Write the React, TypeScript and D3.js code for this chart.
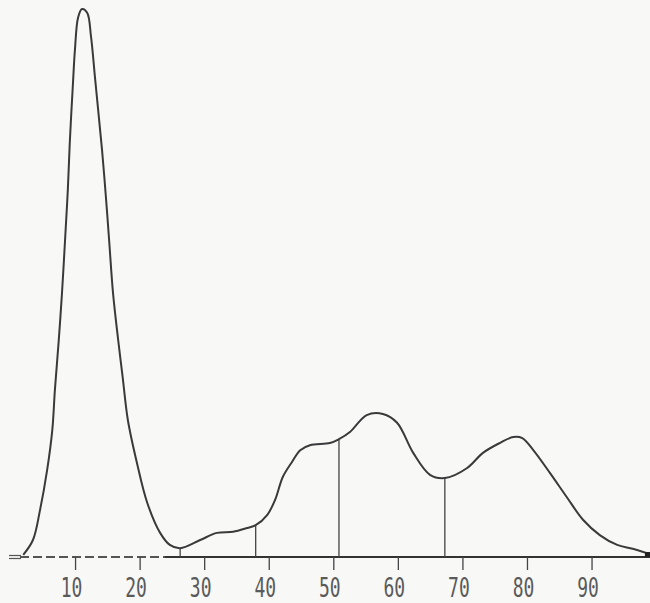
import { useRef, useEffect } from "react";
import * as d3 from "d3";

const W = 650;
const H = 603;
const BASE_Y = 557;

// migration distance (0-100) and density (% of the highest peak)
const position = [
  1.9, 3.4, 4.5, 5.6, 6.4, 6.8, 7.4, 7.9, 8.4, 8.8, 9.1, 9.6, 9.9, 10.4, 11.0,
  11.8, 12.4, 13.0, 13.5, 14.1, 14.7, 15.2, 15.8, 16.6, 17.3, 18.1, 19.5, 21.1, 23.1,
  24.6, 26.2, 29.3, 31.9, 34.4, 36.6, 37.9, 39.7, 40.9, 42.1, 43.5, 44.8, 46.3, 49.4,
  50.8, 52.5, 55.1, 57.6, 59.8, 62.3, 64.9, 67.2, 70.6, 73.1, 75.7, 77.8, 79.2, 80.9,
  83.5, 86.1, 88.6, 91.2, 93.9, 96.3, 98.5,
];
const density = [
  0.4, 3.1, 8.6, 15.9, 23.2, 30.5, 39.6, 48.2, 58.4, 67.0, 75.5, 86.5, 92.5, 98.5, 100,
  99.3, 94.9, 87.6, 81.6, 74.3, 65.7, 57.8, 48.2, 39.6, 32.8, 25.0, 17.2, 9.9, 4.4,
  2.2, 1.6, 3.1, 4.4, 4.6, 5.3, 5.8, 7.7, 10.4, 14.6, 17.3, 19.5, 20.4, 20.8,
  21.5, 22.8, 25.9, 26.1, 24.5, 19.0, 15.0, 14.4, 16.2, 19.0, 20.8, 21.9, 21.7, 19.5,
  15.3, 10.9, 6.8, 4.0, 2.2, 1.5, 0.7,
];

// fraction boundaries (drop lines)
const splitPos = [26.2, 37.9, 50.8, 67.2];
const splitVal = [1.6, 5.8, 21.5, 14.4];

const ticks = [10, 20, 30, 40, 50, 60, 70, 80, 90];

export default function App() {
  const svgRef = useRef<SVGSVGElement>(null);

  useEffect(() => {
    const svg = d3.select(svgRef.current);
    if (!svg.node()) return;
    svg.selectAll("*").remove();

    const x = d3.scaleLinear().domain([0, 100]).range([11, 656.6]);
    const y = d3.scaleLinear().domain([0, 100]).range([BASE_Y, 9]);

    svg.append("rect").attr("width", W).attr("height", H).attr("fill", "#f8f8f7");

    // baseline: faint dashed start, then solid
    svg
      .append("line")
      .attr("x1", 20)
      .attr("x2", 165)
      .attr("y1", BASE_Y)
      .attr("y2", BASE_Y)
      .attr("stroke", "#555")
      .attr("stroke-width", 1.8)
      .attr("stroke-dasharray", "9 4");
    svg
      .append("line")
      .attr("x1", 165)
      .attr("x2", 650)
      .attr("y1", BASE_Y)
      .attr("y2", BASE_Y)
      .attr("stroke", "#333")
      .attr("stroke-width", 2);
    [-1.5, 1.5].forEach((dy) =>
      svg
        .append("line")
        .attr("x1", 9)
        .attr("x2", 21)
        .attr("y1", BASE_Y + dy)
        .attr("y2", BASE_Y + dy)
        .attr("stroke", "#555")
        .attr("stroke-width", 1.2),
    );

    // ticks + labels
    const g = svg.append("g");
    g.selectAll(".tick")
      .data(ticks)
      .enter()
      .append("line")
      .attr("x1", (d) => x(d))
      .attr("x2", (d) => x(d))
      .attr("y1", BASE_Y)
      .attr("y2", BASE_Y + 13)
      .attr("stroke", "#444")
      .attr("stroke-width", 1.3);

    g.selectAll(".lbl")
      .data(ticks)
      .enter()
      .append("text")
      .attr("transform", (d) => `translate(${x(d) - 4},597) scale(1,1.5)`)
      .attr("text-anchor", "middle")
      .style("font-family", "'DejaVu Sans Mono', monospace")
      .style("font-size", "18px")
      .attr("fill", "#5a5a5a")
      .text((d) => String(d));

    // drop lines
    svg
      .selectAll(".split")
      .data(splitPos)
      .enter()
      .append("line")
      .attr("x1", (d) => x(d))
      .attr("x2", (d) => x(d))
      .attr("y1", (_d, i) => y(splitVal[i]))
      .attr("y2", BASE_Y)
      .attr("stroke", "#444")
      .attr("stroke-width", 1.3);

    // trace
    const pts = position.map((p, i) => [p, density[i]] as [number, number]);
    const line = d3
      .line<[number, number]>()
      .x((d) => x(d[0]))
      .y((d) => y(d[1]))
      .curve(d3.curveCatmullRom.alpha(0.5));

    svg
      .append("path")
      .attr("d", line(pts))
      .attr("fill", "none")
      .attr("stroke", "#3a3a3a")
      .attr("stroke-width", 2)
      .attr("stroke-linejoin", "round");

    // pen blob at the end of the trace
    svg
      .append("rect")
      .attr("x", x(98.5) - 2)
      .attr("y", BASE_Y - 5)
      .attr("width", 7)
      .attr("height", 5)
      .attr("fill", "#222");
  }, []);

  return (
    <svg
      ref={svgRef}
      width={W}
      height={H}
      style={{ position: "fixed", top: 0, left: 0, display: "block" }}
    />
  );
}
